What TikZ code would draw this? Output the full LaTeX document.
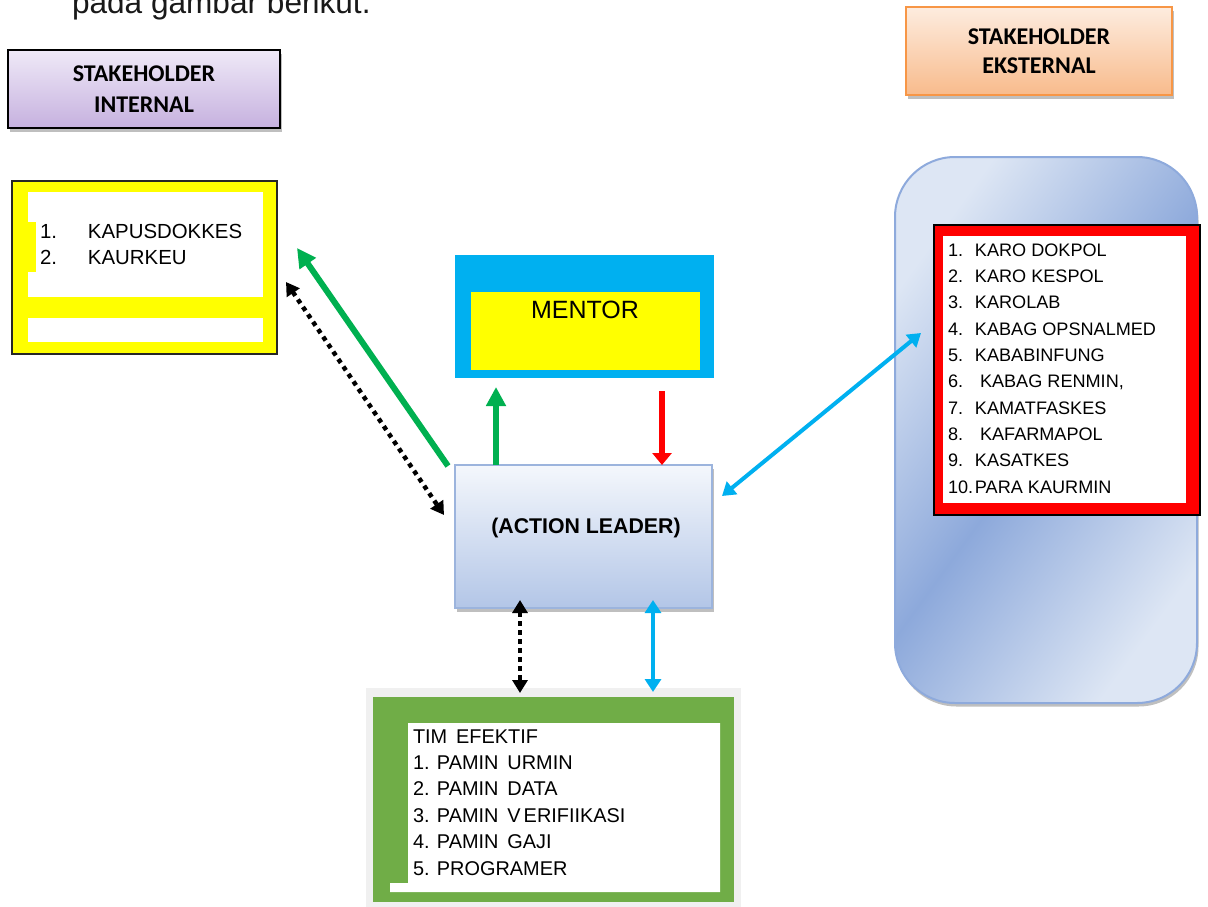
\documentclass[tikz,border=0pt]{standalone}
\usepackage{fontspec}
\setmainfont{Liberation Sans}
\newfontfamily\calib{Carlito}
\usetikzlibrary{arrows.meta,shadows}
\definecolor{grn}{HTML}{00B050}
\definecolor{cyanb}{HTML}{00B0F0}
\definecolor{olgrn}{HTML}{70AD47}
\definecolor{ylw}{HTML}{FFFF00}
\definecolor{redb}{HTML}{FF0000}
\definecolor{lavtop}{HTML}{EFE9F7}
\definecolor{lavbot}{HTML}{C6B1DF}
\definecolor{ortop}{HTML}{FDECDF}
\definecolor{orbot}{HTML}{F8BB8C}
\definecolor{orbord}{HTML}{F79646}
\definecolor{altop}{HTML}{F4F7FC}
\definecolor{albot}{HTML}{B3C6E7}
\definecolor{albord}{HTML}{9CB4DD}
\definecolor{extlight}{HTML}{DDE6F4}
\definecolor{extdark}{HTML}{8DA9DB}
\definecolor{extbord}{HTML}{8EAADC}
\definecolor{framegray}{HTML}{F0F0F0}
\tikzset{
  lbl/.style={inner sep=0pt, outer sep=0pt},
  plainbox/.style={inner sep=0pt, outer sep=0pt},
  shadowed/.style={drop shadow={shadow xshift=1.5pt, shadow yshift=-3.5pt, opacity=0.25, fill=black}},
  sttl/.style={plainbox, align=center, text=black},
  listtext/.style={lbl, anchor=base west},
  garrow/.style={draw=grn, line width=6pt, -{Triangle[length=19pt,width=19pt]}},
  rarrow/.style={draw=redb, line width=6pt, -{Triangle[length=12pt,width=19pt]}},
  barrow/.style={draw=cyanb, line width=4pt, {Triangle[length=13pt,width=16pt]}-{Triangle[length=13pt,width=16pt]}},
  darrow/.style={draw=black, line width=4.5pt, dash pattern=on 4.5pt off 4.5pt, {Triangle[length=13pt,width=15pt]}-{Triangle[length=13pt,width=15pt]}},
}
\begin{document}
\begin{tikzpicture}[x=1pt,y=-1pt]
\useasboundingbox (0,0) rectangle (1208,906);
\clip (0,0) rectangle (1208,906);
\fill[white] (0,0) rectangle (1208,906);

% caption (cut at top)
\node[lbl, anchor=base west, font=\fontsize{31.6}{36}\selectfont, text=black!90] (cap) at (72,13) {pada gambar berikut.};

% stakeholder titles
\node[sttl, font=\calib\bfseries\fontsize{24}{31}\selectfont, draw=black, line width=2.5pt, top color=lavtop, bottom color=lavbot, minimum width=272pt, minimum height=78pt, shadowed] (si) at (144,89) {STAKEHOLDER\\INTERNAL};
\node[sttl, font=\calib\bfseries\fontsize{24}{29}\selectfont, draw=orbord, line width=2pt, top color=ortop, bottom color=orbot, minimum width=266pt, minimum height=88pt, shadowed] (se) at (1039,51) {STAKEHOLDER\\EKSTERNAL};

% internal list box
\node[plainbox, draw=black!85, line width=2pt, fill=ylw, minimum width=265pt, minimum height=173pt] (yb) at (144.5,267.5) {};
\fill[white] (28,192) rectangle (263,297);
\fill[ylw] (28,222) rectangle (36,272);
\fill[white] (28,318) rectangle (263,342);
\node[listtext, font=\fontsize{20.4}{24}\selectfont] (ki1) at (40,238) {\makebox[48pt][l]{1.}KAPUSDOKKES};
\node[listtext, font=\fontsize{20.4}{24}\selectfont] (ki2) at (40,264) {\makebox[48pt][l]{2.}KAURKEU};

% mentor
\node[plainbox, fill=cyanb, minimum width=259pt, minimum height=123pt] (mentor) at (584.5,316.5) {};
\fill[ylw] (471,292) rectangle (700,370);
\node[lbl, anchor=base, font=\fontsize{25}{30}\selectfont] (mt) at (585,318) {MENTOR};

% action leader
\node[plainbox, draw=albord, line width=2pt, top color=altop, bottom color=albot, minimum width=257pt, minimum height=143pt, shadowed] (al) at (583.5,536.5) {};
\node[lbl, anchor=base, font=\bfseries\fontsize{21.3}{24}\selectfont] (alt) at (586,533) {(ACTION LEADER)};

% external
\node[plainbox, draw=extbord, line width=2pt, rounded corners=60pt, top color=extlight, bottom color=extlight, middle color=extdark, shading angle=54, minimum width=302pt, minimum height=546pt, shadowed] (ext) at (1046,430) {};
\node[plainbox, draw=black, line width=2pt, fill=redb, minimum width=266pt, minimum height=290pt] (rb) at (1067,370) {};
\fill[white] (943,236) rectangle (1186,503);
\foreach \t [count=\i] in {KARO DOKPOL,KARO KESPOL,KAROLAB,KABAG OPSNALMED,KABABINFUNG,{\ KABAG RENMIN,},KAMATFASKES,{\ KAFARMAPOL},KASATKES,PARA KAURMIN}{
  \node[listtext, font=\fontsize{18.1}{22}\selectfont] (ex\i) at (948,{256+(\i-1)*26.35}) {\makebox[27pt][l]{\i.}\t};
}

% tim efektif
\fill[framegray] (366,688) rectangle (741,912);
\node[plainbox, fill=olgrn, minimum width=361pt, minimum height=205pt] (te) at (553.5,799.5) {};
\fill[white] (408,723) -- (720,723) -- (720,892) -- (390,892) -- (390,883) -- (408,883) -- cycle;
\foreach \t [count=\i] in {TIM\hspace{0.45em}EFEKTIF,1. PAMIN\hspace{0.45em}URMIN,2. PAMIN\hspace{0.45em}DATA,3. PAMIN\hspace{0.45em}V\kern3pt ERIFIIKASI,4. PAMIN\hspace{0.45em}GAJI,5. PROGRAMER}{
  \node[listtext, font=\fontsize{19.9}{24}\selectfont] (tl\i) at (413,{743+(\i-1)*26.4}) {\t};
}

% connector end points
\coordinate (g1s) at (448,466);
\coordinate (g1e) at (297,248);
\coordinate (d1a) at (286,282);
\coordinate (d1b) at (444,515);
\coordinate (g2s) at (496,465);
\coordinate (g2e) at (496,387);
\coordinate (r1s) at (662,391);
\coordinate (r1e) at (662,465);
\coordinate (b1a) at (722,496);
\coordinate (b1b) at (921,333);
\coordinate (d2a) at (520,600);
\coordinate (d2b) at (520,693);
\coordinate (b2a) at (653,600);
\coordinate (b2b) at (653,692);

\draw[garrow] (g1s) -- (g1e);
\draw[darrow] (d1a) -- (d1b);
\draw[garrow] (g2s) -- (g2e);
\draw[rarrow] (r1s) -- (r1e);
\draw[barrow] (b1a) -- (b1b);
\draw[darrow] (d2a) -- (d2b);
\draw[barrow] (b2a) -- (b2b);
\end{tikzpicture}
\end{document}
